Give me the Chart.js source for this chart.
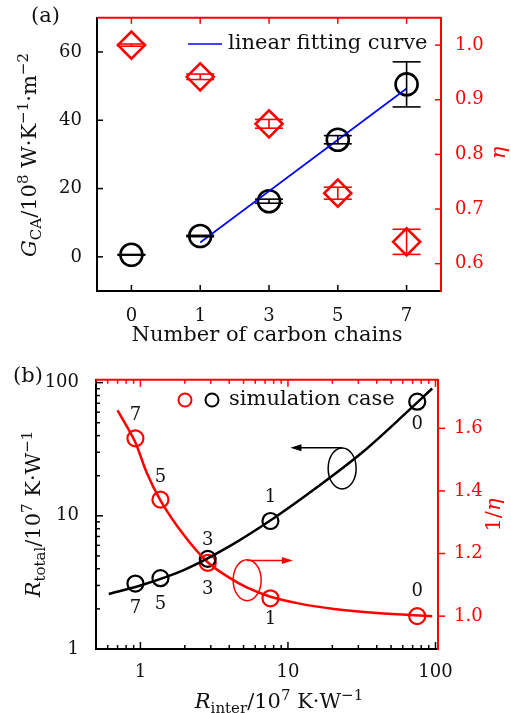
<!DOCTYPE html>
<html>
<head>
<meta charset="utf-8">
<script src="https://cdn.jsdelivr.net/npm/chart.js@4.4.1/dist/chart.umd.min.js"></script>
<style>
  body { margin: 0; background: #fff; }
  canvas { display: block; }
</style>
</head>
<body>
<canvas id="chart-a" width="511" height="360"></canvas>
<canvas id="chart-b" width="511" height="353"></canvas>
<script>
// ---- panel (a) data ----
const chainLabels = ["0", "1", "3", "5", "7"];
const gcaValues = [0.6, 6.1, 16.3, 34.3, 50.5];
const gcaErrors = [0.1, 0.2, 0.6, 1.2, 6.6];
const etaValues = [1.0, 0.942, 0.856, 0.729, 0.64];
const etaErrors = [0.002, 0.005, 0.008, 0.011, 0.023];
const fitValues = [null, 4.2, null, null, 49.3];
const gcaTicks = [0, 20, 40, 60];
const etaTicks = [0.6, 0.7, 0.8, 0.9, 1.0];

// ---- panel (b) data ----
const caseLabels = ["7", "5", "3", "1", "0"];
const rInter = [0.925, 1.367, 2.86, 7.61, 75.2];
const rTotal = [3.1, 3.4, 4.75, 9.14, 71.9];
const invEta = [1.568, 1.372, 1.17, 1.057, 1.0];
const totalCurveX = [0.61, 1, 2, 4, 8, 16, 32, 64, 95];
const totalCurveY = [2.59, 3.0, 3.95, 5.9, 9.6, 16.6, 30, 60, 90.3];
const invEtaCurveX = [0.7, 0.8, 0.925, 1.1, 1.367, 2, 2.86, 4, 5.3, 7.61, 12, 20.5, 40, 95];
const invEtaCurveY = [1.657, 1.61, 1.555, 1.46, 1.37, 1.255, 1.172, 1.123, 1.091, 1.062, 1.04, 1.023, 1.01, 1.0];
const logMajor = [1, 10, 100];
const xMinor = [0.5, 0.6, 0.7, 0.8, 0.9, 2, 3, 4, 5, 6, 7, 8, 9, 20, 30, 40, 50, 60, 70, 80, 90];
const yMinor = [2, 3, 4, 5, 6, 7, 8, 9, 20, 30, 40, 50, 60, 70, 80, 90];
const invEtaTicks = [1.0, 1.2, 1.4, 1.6];

// annotation anchors, in data units
const blackNote = { x: 23.3, y: 22.7, arrowY: 32.4, arrowToX: 10.4 };
const redNote = { x: 5.29, y: 1.115, arrowY: 1.178, arrowToX: 10.8 };

// ---- styling ----
const RED = "#ff0000";
const INK = "#111";
const FAMILY = '"DejaVu Serif", serif';
const TEXT_SIZE = 21;
const tickFont = { family: FAMILY, size: 18 };

// label offsets (px) above / below each case point in (b)
const blackLabelDy = [25, 26, -19, -24, 23];
const redLabelDy = [-23, -22, 26, 21, -25];

// draw a string made of normal / italic / sub / sup pieces, centered at x,y
function drawRich(ctx, parts, x, y, color, rotate) {
  const fontFor = (kind) => {
    if (kind === "sub" || kind === "sup") return `${Math.round(TEXT_SIZE * 0.7)}px ${FAMILY}`;
    if (kind === "i") return `italic ${TEXT_SIZE}px ${FAMILY}`;
    return `${TEXT_SIZE}px ${FAMILY}`;
  };
  ctx.save();
  ctx.translate(x, y);
  if (rotate) ctx.rotate(rotate);
  let total = 0;
  parts.forEach(([t, k]) => { ctx.font = fontFor(k); total += ctx.measureText(t).width; });
  let cx = -total / 2;
  ctx.fillStyle = color;
  ctx.textBaseline = "alphabetic";
  ctx.textAlign = "left";
  const base = TEXT_SIZE * 0.36;
  parts.forEach(([t, k]) => {
    ctx.font = fontFor(k);
    const dy = k === "sub" ? 5 : k === "sup" ? -8 : 0;
    ctx.fillText(t, cx, base + dy);
    cx += ctx.measureText(t).width;
  });
  ctx.restore();
}

function line(ctx, x1, y1, x2, y2) {
  ctx.beginPath();
  ctx.moveTo(x1, y1);
  ctx.lineTo(x2, y2);
  ctx.stroke();
}

// ================= panel (a) =================
const errorBars = {
  id: "errorBars",
  afterDatasetsDraw(chart) {
    const ctx = chart.ctx;
    chart.data.datasets.forEach((ds, i) => {
      if (!ds.errors) return;
      const meta = chart.getDatasetMeta(i);
      const ys = chart.scales[ds.yAxisID];
      ctx.save();
      ctx.strokeStyle = ds.borderColor;
      ctx.lineWidth = 1.6;
      meta.data.forEach((pt, j) => {
        const v = ds.data[j];
        const top = ys.getPixelForValue(v + ds.errors[j]);
        const bot = ys.getPixelForValue(v - ds.errors[j]);
        line(ctx, pt.x, top, pt.x, bot);
        line(ctx, pt.x - 14, top, pt.x + 14, top);
        line(ctx, pt.x - 14, bot, pt.x + 14, bot);
      });
      ctx.restore();
    });
  },
};

const frameA = {
  id: "frameA",
  afterDraw(chart) {
    const { ctx, chartArea: a, scales } = chart;
    ctx.save();
    ctx.lineWidth = 2;
    ctx.strokeStyle = RED;
    line(ctx, a.left, a.top, a.right, a.top);
    ctx.lineWidth = 1.5;
    chainLabels.forEach((_, i) => {
      const x = scales.x.getPixelForValue(i);
      ctx.strokeStyle = RED;
      line(ctx, x, a.top, x, a.top + 6);
      ctx.strokeStyle = "#000";
      line(ctx, x, a.bottom, x, a.bottom - 6);
    });
    ctx.strokeStyle = "#000";
    gcaTicks.forEach(v => {
      const y = scales.y.getPixelForValue(v);
      line(ctx, a.left, y, a.left + 6, y);
    });
    ctx.strokeStyle = RED;
    etaTicks.forEach(v => {
      const y = scales.y1.getPixelForValue(v);
      line(ctx, a.right, y, a.right - 6, y);
    });

    // legend
    ctx.strokeStyle = "#0000ff";
    ctx.lineWidth = 1.6;
    line(ctx, 188, 44, 222, 44);
    ctx.fillStyle = INK;
    ctx.font = `${TEXT_SIZE}px ${FAMILY}`;
    ctx.textBaseline = "middle";
    ctx.fillText("linear fitting curve", 228, 44);
    ctx.fillText("(a)", 31, 17);

    // axis titles
    drawRich(ctx, [["G", "i"], ["CA", "sub"], ["/10", ""], ["8", "sup"], [" W·K", ""], ["−1", "sup"], ["·m", ""], ["−2", "sup"]],
      28, 155, INK, -Math.PI / 2);
    drawRich(ctx, [["η", "i"]], 497, 153, RED, -Math.PI / 2);
    drawRich(ctx, [["Number of carbon chains", ""]], 267, 333, INK, 0);
    ctx.restore();
  },
};

new Chart(document.getElementById("chart-a"), {
  type: "line",
  data: {
    labels: chainLabels,
    datasets: [
      {
        label: "linear fitting curve",
        data: fitValues,
        yAxisID: "y",
        spanGaps: true,
        borderColor: "#0000ff",
        borderWidth: 1.6,
        pointRadius: 0,
      },
      {
        label: "G_CA",
        data: gcaValues,
        errors: gcaErrors,
        yAxisID: "y",
        showLine: false,
        borderColor: "#000",
        pointRadius: 11,
        pointBorderWidth: 2.6,
        pointBackgroundColor: "rgba(0,0,0,0)",
      },
      {
        label: "eta",
        data: etaValues,
        errors: etaErrors,
        yAxisID: "y1",
        showLine: false,
        borderColor: RED,
        pointStyle: "rectRot",
        pointRadius: 13.5,
        pointBorderWidth: 2.6,
        pointBackgroundColor: "rgba(0,0,0,0)",
      },
    ],
  },
  options: {
    responsive: false,
    animation: false,
    events: [],
    layout: { padding: { top: 15, left: 0, right: 0, bottom: 0 } },
    plugins: { legend: { display: false }, tooltip: { enabled: false } },
    scales: {
      x: {
        type: "category",
        offset: true,
        grid: { display: false },
        border: { color: "#000", width: 2 },
        ticks: { color: INK, font: tickFont, padding: 7 },
        afterFit: s => { s.height = 69; },
      },
      y: {
        position: "left",
        min: -10,
        max: 70,
        afterBuildTicks: s => { s.ticks = gcaTicks.map(v => ({ value: v })); },
        grid: { display: false },
        border: { color: "#000", width: 2 },
        ticks: { color: INK, font: tickFont, padding: 7 },
        afterFit: s => { s.width = 97; },
      },
      y1: {
        position: "right",
        min: 0.55,
        max: 1.05,
        afterBuildTicks: s => { s.ticks = etaTicks.map(v => ({ value: v })); },
        grid: { display: false },
        border: { color: RED, width: 2 },
        ticks: { color: RED, font: tickFont, padding: 6, callback: v => v.toFixed(1) },
        afterFit: s => { s.width = 70; },
      },
    },
  },
  plugins: [errorBars, frameA],
});

// ================= panel (b) =================
const frameB = {
  id: "frameB",
  afterDraw(chart) {
    const { ctx, chartArea: a, scales } = chart;
    ctx.save();
    ctx.lineWidth = 2;
    ctx.strokeStyle = RED;
    line(ctx, a.left, a.top, a.right, a.top);

    ctx.lineWidth = 1.5;
    const xTick = (v, len) => {
      const x = scales.x.getPixelForValue(v);
      if (x < a.left || x > a.right) return;
      ctx.strokeStyle = RED;
      line(ctx, x, a.top, x, a.top + len);
      ctx.strokeStyle = "#000";
      line(ctx, x, a.bottom, x, a.bottom - len);
    };
    logMajor.forEach(v => xTick(v, 7));
    xMinor.forEach(v => xTick(v, 4));

    ctx.strokeStyle = "#000";
    const yTick = (v, len) => {
      const y = scales.y.getPixelForValue(v);
      if (y < a.top || y > a.bottom) return;
      line(ctx, a.left, y, a.left + len, y);
    };
    logMajor.forEach(v => yTick(v, 7));
    yMinor.forEach(v => yTick(v, 4));

    ctx.strokeStyle = RED;
    invEtaTicks.forEach(v => {
      const y = scales.y1.getPixelForValue(v);
      line(ctx, a.right, y, a.right + 7, y);
    });

    // case labels
    ctx.font = `18px ${FAMILY}`;
    ctx.fillStyle = INK;
    ctx.textAlign = "center";
    ctx.textBaseline = "middle";
    caseLabels.forEach((t, i) => {
      const x = scales.x.getPixelForValue(rInter[i]);
      ctx.fillText(t, x, scales.y.getPixelForValue(rTotal[i]) + blackLabelDy[i]);
      ctx.fillText(t, x, scales.y1.getPixelForValue(invEta[i]) + redLabelDy[i]);
    });

    // ellipse + arrow notes
    const note = (n, ys, color, dir) => {
      const cx = scales.x.getPixelForValue(n.x);
      const cy = ys.getPixelForValue(n.y);
      const ay = ys.getPixelForValue(n.arrowY);
      const tx = scales.x.getPixelForValue(n.arrowToX);
      ctx.strokeStyle = color;
      ctx.fillStyle = color;
      ctx.lineWidth = 1.5;
      ctx.beginPath();
      ctx.ellipse(cx, cy, 14, 20.5, 0, 0, Math.PI * 2);
      ctx.stroke();
      line(ctx, cx, ay, tx - dir * 8, ay);
      ctx.beginPath();
      ctx.moveTo(tx, ay);
      ctx.lineTo(tx - dir * 11, ay - 3.5);
      ctx.lineTo(tx - dir * 11, ay + 3.5);
      ctx.closePath();
      ctx.fill();
    };
    note(blackNote, scales.y, "#000", -1);
    note(redNote, scales.y1, RED, 1);

    // legend
    ctx.lineWidth = 2;
    ctx.strokeStyle = RED;
    ctx.beginPath(); ctx.arc(185, 40, 6.5, 0, Math.PI * 2); ctx.stroke();
    ctx.strokeStyle = "#000";
    ctx.beginPath(); ctx.arc(212, 40, 6.5, 0, Math.PI * 2); ctx.stroke();
    ctx.fillStyle = INK;
    ctx.font = `${TEXT_SIZE}px ${FAMILY}`;
    ctx.textAlign = "left";
    ctx.fillText("simulation case", 229, 40);
    ctx.fillText("(b)", 13, 17);

    drawRich(ctx, [["R", "i"], ["total", "sub"], ["/10", ""], ["7", "sup"], [" K·W", ""], ["−1", "sup"]],
      32, 154, INK, -Math.PI / 2);
    drawRich(ctx, [["1/", ""], ["η", "i"]], 492, 155, RED, -Math.PI / 2);
    drawRich(ctx, [["R", "i"], ["inter", "sub"], ["/10", ""], ["7", "sup"], [" K·W", ""], ["−1", "sup"]],
      279, 340, INK, 0);
    ctx.restore();
  },
};

const toPoints = (xs, ys) => xs.map((x, i) => ({ x, y: ys[i] }));

new Chart(document.getElementById("chart-b"), {
  type: "line",
  data: {
    datasets: [
      {
        label: "R_total fit",
        data: toPoints(totalCurveX, totalCurveY),
        yAxisID: "y",
        borderColor: "#000",
        borderWidth: 2.5,
        pointRadius: 0,
        cubicInterpolationMode: "monotone",
      },
      {
        label: "1/eta fit",
        data: toPoints(invEtaCurveX, invEtaCurveY),
        yAxisID: "y1",
        borderColor: RED,
        borderWidth: 2.5,
        pointRadius: 0,
        cubicInterpolationMode: "monotone",
      },
      {
        label: "R_total",
        data: toPoints(rInter, rTotal),
        yAxisID: "y",
        showLine: false,
        borderColor: "#000",
        pointRadius: 8,
        pointBorderWidth: 2.2,
        pointBackgroundColor: "rgba(0,0,0,0)",
      },
      {
        label: "1/eta",
        data: toPoints(rInter, invEta),
        yAxisID: "y1",
        showLine: false,
        borderColor: RED,
        pointRadius: 8,
        pointBorderWidth: 2.2,
        pointBackgroundColor: "rgba(0,0,0,0)",
      },
    ],
  },
  options: {
    responsive: false,
    animation: false,
    events: [],
    layout: { padding: { top: 16, left: 0, right: 0, bottom: 0 } },
    plugins: { legend: { display: false }, tooltip: { enabled: false } },
    scales: {
      x: {
        type: "logarithmic",
        min: 0.5,
        max: 104,
        afterBuildTicks: s => { s.ticks = logMajor.map(v => ({ value: v })); },
        grid: { display: false },
        border: { color: "#000", width: 2 },
        ticks: { color: INK, font: tickFont, padding: 5, callback: v => String(v) },
        afterFit: s => { s.height = 64; },
      },
      y: {
        type: "logarithmic",
        position: "left",
        min: 1,
        max: 105,
        afterBuildTicks: s => { s.ticks = logMajor.map(v => ({ value: v })); },
        grid: { display: false },
        border: { color: "#000", width: 2 },
        ticks: { color: INK, font: tickFont, padding: 9, callback: v => String(v) },
        afterFit: s => { s.width = 96; },
      },
      y1: {
        position: "right",
        min: 0.895,
        max: 1.755,
        afterBuildTicks: s => { s.ticks = invEtaTicks.map(v => ({ value: v })); },
        grid: { display: false },
        border: { color: RED, width: 2 },
        ticks: { color: RED, font: tickFont, padding: 8, callback: v => v.toFixed(1) },
        afterFit: s => { s.width = 73; },
      },
    },
  },
  plugins: [frameB],
});
</script>
</body>
</html>
